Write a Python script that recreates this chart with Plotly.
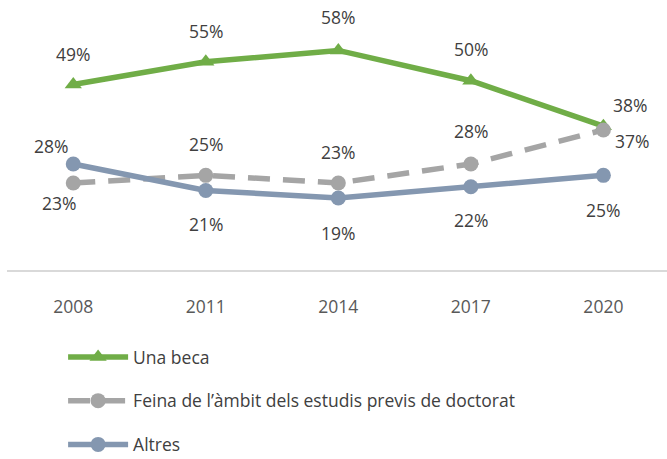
import plotly.graph_objects as go

years = ["2008", "2011", "2014", "2017", "2020"]
una_beca = [49, 55, 58, 50, 38]
feina = [23, 25, 23, 28, 37]
altres = [28, 21, 19, 22, 25]

names = ["Una beca", "Feina de l\u2019\u00e0mbit dels estudis previs de doctorat", "Altres"]
colors = ["#70AD47", "#A5A5A5", "#8497B0"]

FONT = "Open Sans"
LABEL_COLOR = "#404040"
SIZE = 17.5

fig = go.Figure()

fig.add_trace(go.Scatter(
    x=years, y=una_beca, name=names[0], mode="lines+markers",
    line=dict(color=colors[0], width=5.5),
    marker=dict(symbol="triangle-up", size=15, color=colors[0]),
    legendgroup="a",
))
fig.add_trace(go.Scatter(
    x=years, y=feina, name=names[1], mode="lines+markers",
    line=dict(color=colors[1], width=5.5, dash="22px,13px"),
    marker=dict(symbol="circle", size=15, color=colors[1]),
    legendgroup="b",
))
fig.add_trace(go.Scatter(
    x=years, y=altres, name=names[2], mode="lines+markers",
    line=dict(color=colors[2], width=5.5),
    marker=dict(symbol="circle", size=15, color=colors[2]),
    legendgroup="c",
))

# label offsets (x shift, y shift in px) per series and point
offsets = {
    0: [(0, 31), (0, 31), (0, 33), (0, 32), (27, 21)],
    1: [(-14, -20), (0, 31), (0, 31), (0, 33), (29, -11)],
    2: [(-22, 18), (0, -33), (0, -35), (0, -33), (0, -35)],
}
for si, vals in enumerate([una_beca, feina, altres]):
    for i, v in enumerate(vals):
        dx, dy = offsets[si][i]
        fig.add_annotation(
            x=i, y=v, xref="x", yref="y", text=f"{v}%", showarrow=False,
            xshift=dx, yshift=dy,
            font=dict(family=FONT, size=SIZE, color=LABEL_COLOR),
        )

fig.update_layout(
    width=667, height=459,
    margin=dict(l=7, r=0, t=5, b=189),
    paper_bgcolor="white", plot_bgcolor="white",
    font=dict(family=FONT, size=SIZE, color=LABEL_COLOR),
    showlegend=True,
    legend=dict(
        orientation="v", xref="paper", yref="container",
        x=0.085, y=0.2614, xanchor="left", yanchor="top",
        itemwidth=60, tracegroupgap=18,
        font=dict(family=FONT, size=SIZE, color="#404040"),
        bgcolor="rgba(0,0,0,0)",
    ),
    xaxis=dict(
        type="category", range=[-0.5, 4.48],
        showgrid=False, zeroline=False,
        showline=True, linecolor="#D9D9D9", linewidth=2,
        ticks="outside", ticklen=20, tickcolor="rgba(0,0,0,0)",
        tickfont=dict(family=FONT, size=SIZE, color="#595959"),
    ),
    yaxis=dict(
        range=[0, 70], showgrid=False, zeroline=False,
        showticklabels=False, showline=False,
    ),
)

fig.write_html("out.html")
